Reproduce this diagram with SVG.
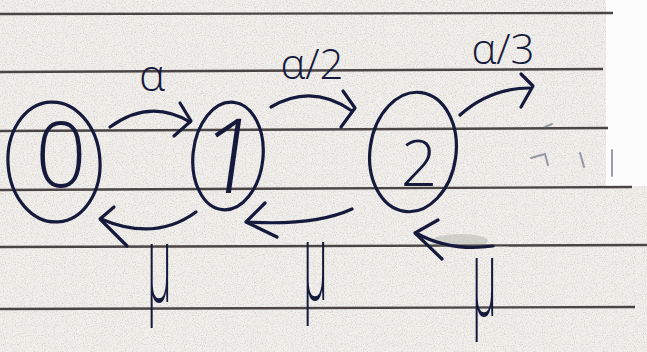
<svg xmlns="http://www.w3.org/2000/svg" width="647" height="352" viewBox="0 0 647 352">
  <defs>
    <filter id="grain" x="0" y="0" width="100%" height="100%">
      <feTurbulence type="fractalNoise" baseFrequency="0.9" numOctaves="2" seed="3" result="n"/>
      <feColorMatrix type="matrix" values="0 0 0 0 0.35  0 0 0 0 0.3  0 0 0 0 0.3  0 0 0 -2.2 1.15" in="n"/>
    </filter>
    <style>
      .ink { fill: none; stroke: #151a3c; stroke-width: 3.2; stroke-linecap: round; stroke-linejoin: round; }
      .rule { fill: none; stroke: #2e2828; stroke-width: 2.4; opacity: 0.85; }
      .lbl { font-family: "Open Sans", "DejaVu Sans", sans-serif; font-weight: 300; fill: #151a3c; }
      .faint { fill: none; stroke: #5a6078; stroke-width: 2; stroke-linecap: round; opacity: 0.6; }
    </style>
  </defs>

  <!-- paper -->
  <rect x="0" y="0" width="647" height="352" fill="#f1efeb"/>
  <rect x="0" y="0" width="647" height="352" filter="url(#grain)" opacity="0.4"/>
  <polygon points="606,0 647,0 647,186 606,186" fill="#fcfcfc"/>

  <!-- ruled lines -->
  <g id="rules">
    <path class="rule" d="M0,14 L613,13"/>
    <path class="rule" d="M0,72 L603,69"/>
    <path class="rule" d="M0,131 L608,128"/>
    <path class="rule" d="M0,190 L632,187"/>
    <path class="rule" d="M0,247 L647,245"/>
    <path class="rule" d="M0,309 L635,307"/>
  </g>

  <!-- nodes -->
  <g id="node0">
    <ellipse class="ink" cx="54" cy="162" rx="46" ry="60" transform="rotate(-4 54 162)"/>
    <text class="lbl" x="61" y="187" font-size="90" text-anchor="middle">0</text>
  </g>
  <g id="node1">
    <ellipse class="ink" cx="228" cy="156" rx="35" ry="54" transform="rotate(6 228 156)"/>
    <text class="lbl" font-size="104" text-anchor="middle" transform="translate(226 193) skewX(-8)">1</text>
  </g>
  <g id="node2">
    <ellipse class="ink" cx="413" cy="152" rx="43" ry="60" transform="rotate(8 413 152)"/>
    <text class="lbl" x="419" y="186" font-size="64" text-anchor="middle">2</text>
  </g>

  <!-- connectors -->
  <g id="connectors">
    <path class="ink" d="M110,127 Q150,98 190,122"/>
    <path class="ink" d="M180,103 L191,121 L174,136"/>

    <path class="ink" d="M271,107 Q312,83 352,111"/>
    <path class="ink" d="M343,91 L355,108 L341,127"/>

    <path class="ink" d="M460,115 Q490,88 530,88"/>
    <path class="ink" d="M521,74 L533,86 L521,107"/>

    <path class="ink" d="M196,212 Q155,242 101,219"/>
    <path class="ink" d="M114,207 L100,219 L127,246"/>

    <path class="ink" d="M352,209 Q315,226 247,222"/>
    <path class="ink" d="M265,203 L246,222 L277,237"/>

    <ellipse cx="460" cy="241" rx="28" ry="7" fill="#8a9088" opacity="0.3"/>
    <path class="ink" d="M493,246 Q450,252 416,233"/>
    <path class="ink" d="M438,220 L415,233 L442,259"/>
  </g>

  <!-- labels -->
  <g id="labels">
    <text class="lbl" x="152" y="91" font-size="44" text-anchor="middle">α</text>
    <text class="lbl" x="312" y="79" font-size="42" text-anchor="middle">α/2</text>
    <text class="lbl" x="503" y="64" font-size="42" text-anchor="middle">α/3</text>
    <text class="lbl" font-size="104" transform="translate(147 302) scale(0.4 1.05)">μ</text>
    <text class="lbl" font-size="104" transform="translate(303 300) scale(0.4 1.05)">μ</text>
    <text class="lbl" font-size="104" transform="translate(472 316) scale(0.4 1.05)">μ</text>
  </g>

  <!-- faint marks -->
  <g id="marks">
    <path class="faint" d="M545,127 L552,124"/>
    <path class="faint" d="M531,158 L545,154 L548,165"/>
    <path class="faint" d="M580,153 L584,167"/>
    <path class="faint" d="M612,150 L612,176"/>
  </g>
</svg>
